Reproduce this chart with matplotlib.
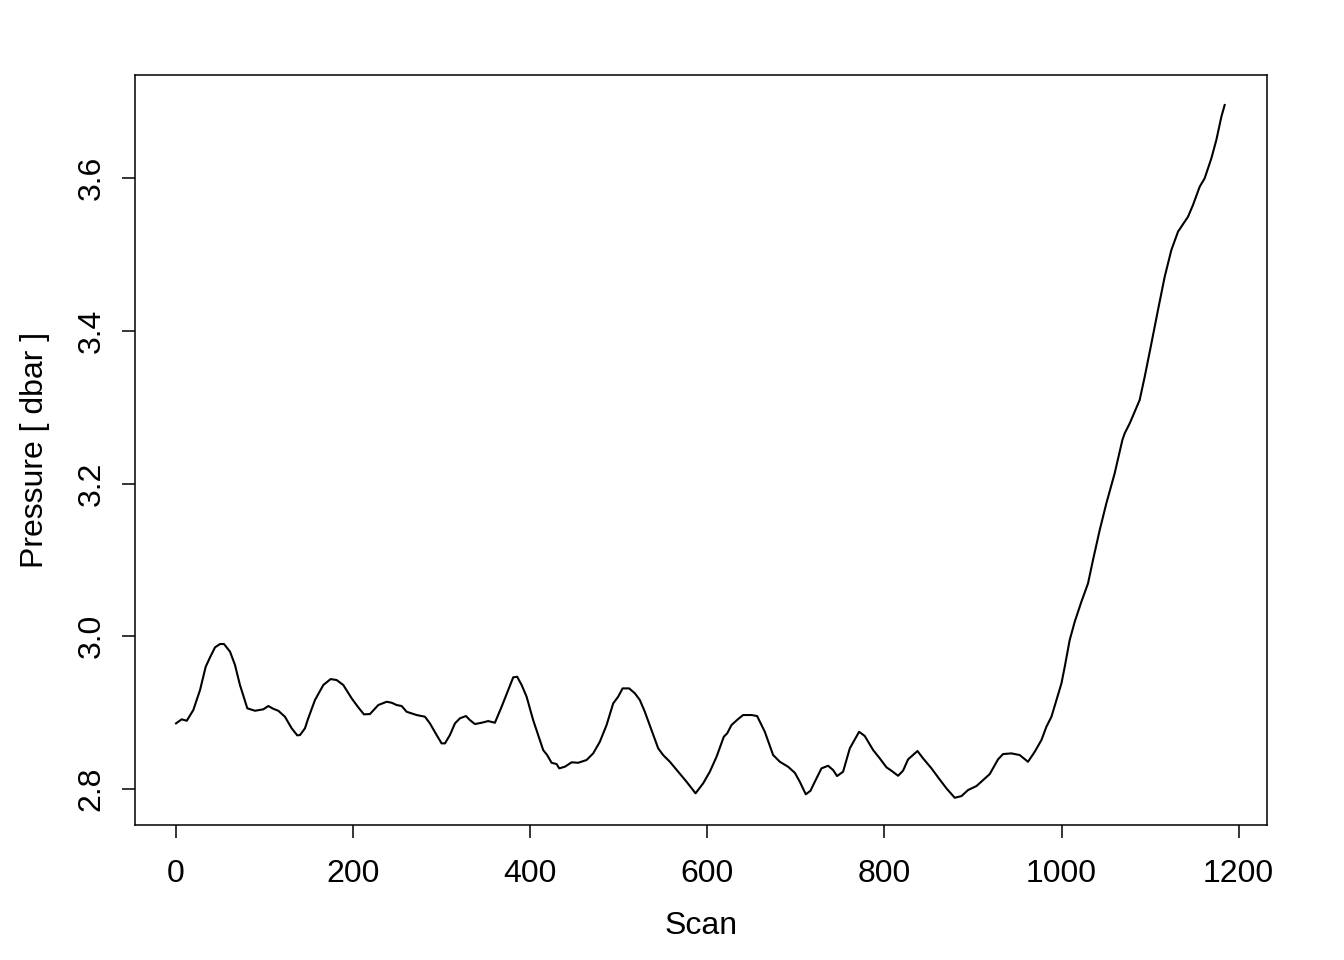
import matplotlib
matplotlib.use("Agg")
import matplotlib.pyplot as plt

# scan number vs pressure
scan = [0, 6.4, 12.1, 19.5, 27.1, 33.5, 38.4, 44.0, 49.7, 54.2,
        61.0, 66.6, 72.2, 80.5, 89.2, 98.6, 104.2, 109.8, 115.5, 123.0,
        130.6, 136.9, 140.0, 145.6, 149.3, 156.9, 166.3, 174.6, 181.4, 188.9,
        198.3, 205.8, 212.2, 219.0, 228.4, 237.9, 243.5, 249.1, 254.8, 260.4,
        271.7, 281.1, 286.7, 294.3, 299.9, 303.7, 309.3, 315.0, 320.6, 327.4,
        331.9, 337.5, 345.1, 352.5, 360.1, 367.7, 375.1, 380.8, 385.3, 390.3,
        395.9, 403.3, 409.0, 414.6, 419.1, 424.1, 429.8, 432.7, 439.1, 446.7,
        454.2, 463.6, 471.1, 478.6, 486.2, 493.7, 499.3, 504.3, 511.7, 518.2,
        523.8, 529.4, 537.0, 544.5, 550.1, 557.7, 567.0, 576.5, 586.7, 595.3,
        602.8, 610.4, 618.6, 622.4, 627.3, 634.8, 640.4, 649.9, 656.2, 664.9,
        674.3, 681.9, 691.2, 698.8, 704.4, 711.2, 716.5, 721.4, 728.9, 736.4,
        742.0, 746.5, 753.3, 760.9, 771.4, 777.8, 787.2, 794.7, 802.3, 807.9,
        815.4, 821.0, 826.7, 837.3, 843.6, 853.1, 860.6, 870.0, 879.4, 887.0,
        894.4, 903.9, 911.4, 918.9, 928.3, 933.9, 943.4, 952.8, 962.1, 969.7,
        977.3, 982.9, 988.6, 994.2, 999.9, 1003.6, 1009.2, 1014.9, 1022.4, 1029.9,
        1035.5, 1043.1, 1050.6, 1060.0, 1068.7, 1071.3, 1077.0, 1088.2, 1093.9, 1101.5,
        1108.9, 1116.5, 1124.0, 1131.5, 1142.8, 1148.4, 1156.0, 1161.6, 1169.2, 1174.8,
        1180.5, 1184.2]
pressure = [2.8860, 2.8913, 2.8894, 2.9034, 2.9296, 2.9601, 2.9724, 2.9855, 2.9899, 2.9899,
            2.9798, 2.9624, 2.9362, 2.9057, 2.9025, 2.9044, 2.9087, 2.9051, 2.9025, 2.8947,
            2.8795, 2.8703, 2.8707, 2.8795, 2.8926, 2.9165, 2.9362, 2.9440, 2.9427, 2.9362,
            2.9188, 2.9070, 2.8978, 2.8982, 2.9100, 2.9143, 2.9130, 2.9100, 2.9087, 2.9012,
            2.8969, 2.8947, 2.8860, 2.8707, 2.8598, 2.8598, 2.8707, 2.8860, 2.8926, 2.8956,
            2.8903, 2.8851, 2.8868, 2.8890, 2.8868, 2.9078, 2.9296, 2.9463, 2.9470, 2.9362,
            2.9209, 2.8903, 2.8707, 2.8511, 2.8445, 2.8344, 2.8327, 2.8271, 2.8292, 2.8350,
            2.8344, 2.8380, 2.8467, 2.8619, 2.8838, 2.9122, 2.9209, 2.9318, 2.9318, 2.9253,
            2.9165, 2.9012, 2.8773, 2.8533, 2.8445, 2.8357, 2.8227, 2.8096, 2.7944, 2.8075,
            2.8227, 2.8423, 2.8685, 2.8729, 2.8838, 2.8917, 2.8969, 2.8969, 2.8956, 2.8750,
            2.8445, 2.8357, 2.8292, 2.8213, 2.8096, 2.7931, 2.7978, 2.8096, 2.8271, 2.8305,
            2.8249, 2.8170, 2.8227, 2.8533, 2.8750, 2.8694, 2.8511, 2.8402, 2.8284, 2.8240,
            2.8174, 2.8240, 2.8389, 2.8498, 2.8402, 2.8271, 2.8153, 2.8009, 2.7886, 2.7908,
            2.7987, 2.8039, 2.8118, 2.8196, 2.8389, 2.8458, 2.8467, 2.8445, 2.8357, 2.8488,
            2.8642, 2.8816, 2.8947, 2.9165, 2.9384, 2.9601, 2.9951, 3.0191, 3.0452, 3.0693,
            3.0998, 3.1391, 3.1741, 3.2134, 3.2570, 3.2657, 3.2788, 3.3093, 3.3398, 3.3836,
            3.4272, 3.4708, 3.5057, 3.5297, 3.5493, 3.5646, 3.5886, 3.5996, 3.6258, 3.6498,
            3.6803, 3.6956]

x_ticks = [0, 200, 400, 600, 800, 1000, 1200]
y_ticks = [2.8, 3.0, 3.2, 3.4, 3.6]

plt.rcParams['font.family'] = ['Liberation Sans', 'DejaVu Sans']

fig = plt.figure(figsize=(13.44, 9.6), dpi=100)
ax = fig.add_axes([0.1004, 0.1406, 0.8423, 0.7813])

ax.plot(scan, pressure, color="black", linewidth=1.5)

ax.set_xlim(-46.4, 1232.0)
ax.set_ylim(2.7529, 3.7349)
ax.set_xticks(x_ticks)
ax.set_yticks(y_ticks)
ax.set_xticklabels([str(t) for t in x_ticks])
ax.set_yticklabels(["{:.1f}".format(t) for t in y_ticks])

for s in ax.spines.values():
  s.set_linewidth(1.1)

ax.tick_params(axis="both", direction="out", length=9.4, width=1.1, labelsize=23)
ax.tick_params(axis="x", pad=15)
ax.tick_params(axis="y", labelrotation=90, pad=11)
for lab in ax.get_yticklabels():
  lab.set_va("center")

ax.set_xlabel("Scan", fontsize=23, labelpad=16)
ax.set_ylabel("Pressure [ dbar ]", fontsize=23, labelpad=19)

fig.savefig("out.png", dpi=100)
